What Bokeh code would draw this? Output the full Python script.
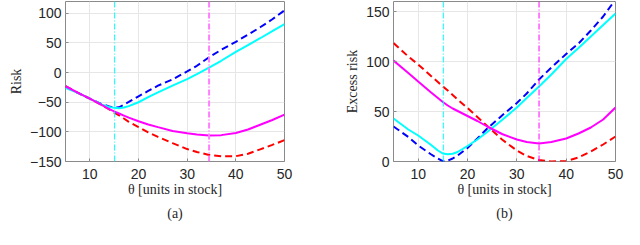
from bokeh.plotting import figure
from bokeh.layouts import row
from bokeh.models import Range1d, FixedTicker, Span, Title, Spacer
from bokeh.embed import file_html
from bokeh.resources import INLINE

# ---- data ----
theta = [5, 8, 10, 12.5, 14, 15, 16, 17, 18, 20, 22, 24, 27, 30, 32, 34.5, 37, 40, 42.5, 45, 47.5, 50]

# (a) Risk
risk_cyan = [-25.5, -36, -44, -54, -58, -59.5, -60, -59, -56.5, -50, -41.5, -33.5, -22, -11, -2.5, 8.5, 20, 35, 46.5, 58, 70, 82]
risk_blue = [-24.5, -36, -44, -53.5, -57, -59, -58.5, -54, -49.5, -40, -31, -22, -11.5, 2, 11.5, 26, 38.5, 52, 64, 76.5, 90, 105]
risk_magenta = [-23, -36, -44, -55, -61.5, -65.5, -69, -72.5, -76, -82, -87.5, -92, -98.5, -102.5, -104.5, -106, -105.5, -102, -96, -88, -80, -71]
risk_red = [-23, -36, -44, -55, -62, -67.5, -72, -77.5, -83, -92, -101, -108.5, -119, -129, -134, -139, -141, -141, -137, -129.5, -122, -114]

# (b) Excess risk
ex_cyan = [43, 32, 26, 17, 11, 8, 7.2, 7.8, 9.5, 15.5, 22, 29.5, 41.5, 54, 63.5, 75, 87, 102.5, 113.5, 125, 136.5, 148]
ex_blue = [35, 24.5, 16, 7.5, 3, 0.3, 0.8, 3, 6, 13.5, 23, 33, 46, 58.5, 68, 82, 94, 107.5, 118, 131, 145, 162]
ex_red = [118.5, 105, 97, 86, 79.5, 75, 71, 66.5, 62, 53.5, 44.5, 35.5, 22, 11, 5.5, 1.5, 0, 0.5, 4, 10, 17, 25]
ex_magenta = [101, 88.5, 80, 69.5, 63.5, 59.5, 56, 53, 50.5, 45.5, 40.5, 35, 27.5, 22, 19.5, 18, 19.5, 23, 28, 34, 42, 54]

theta_opt_1 = 15.1
theta_opt_2 = 34.5

x_ticks = [10, 20, 30, 40, 50]
ya_ticks = [-150, -100, -50, 0, 50, 100]
yb_ticks = [0, 50, 100, 150]

SANS = "Liberation Sans"
SERIF = "Liberation Serif"
TXT = "#262626"


def make_fig(fw, ylim, yticks, ylabel, sub, bl, br):
    p = figure(frame_width=fw, frame_height=160, output_backend="svg", toolbar_location=None,
               x_range=Range1d(5, 50), y_range=Range1d(*ylim),
               min_border_left=bl, min_border_right=br, min_border_top=1, min_border_bottom=0)
    p.outline_line_color = "#8a8a8a"
    p.outline_line_width = 1
    p.background_fill_color = "white"
    p.border_fill_color = "white"
    p.xaxis.ticker = FixedTicker(ticks=x_ticks)
    p.yaxis.ticker = FixedTicker(ticks=yticks)
    for ax in (p.xaxis[0], p.yaxis[0]):
        ax.axis_line_color = None
        ax.major_tick_in = 3
        ax.major_tick_out = 0
        ax.major_tick_line_color = "#8a8a8a"
        ax.minor_tick_line_color = None
        ax.major_label_text_font = SANS
        ax.major_label_text_font_size = "14px"
        ax.major_label_text_color = TXT
        ax.axis_label_text_font = SERIF
        ax.axis_label_text_font_size = "14px"
        ax.axis_label_text_font_style = "normal"
        ax.axis_label_text_color = TXT
    p.xaxis.major_label_standoff = 7
    p.yaxis.major_label_standoff = 4
    p.xaxis.axis_label = "θ [units in stock]"
    p.xaxis.axis_label_standoff = 0
    p.yaxis.axis_label = ylabel
    p.yaxis.axis_label_standoff = 3
    p.grid.grid_line_color = "#e6e6e6"
    p.grid.grid_line_width = 1
    p.add_layout(Title(text=sub, align="center", text_font=SERIF, text_font_size="14px",
                       text_font_style="normal", text_color=TXT, standoff=8), "below")
    return p


pa = make_fig(219, (-150, 120), ya_ticks, "Risk", "(a)", 55, 38)
pa.add_layout(Span(location=theta_opt_1, dimension="height", line_color="#00ffff",
                   line_width=1, line_dash="6 2 1 2"))
pa.add_layout(Span(location=theta_opt_2, dimension="height", line_color="#ff80ff",
                   line_width=2, line_dash="6 2 1 2"))
pa.line(theta, risk_blue, line_color="#0000ff", line_width=2, line_dash="7 4")
pa.line(theta, risk_red, line_color="#ff0000", line_width=2, line_dash="7 4")
pa.line(theta, risk_cyan, line_color="#00ffff", line_width=2)
pa.line(theta, risk_magenta, line_color="#ff00ff", line_width=2)

pb = make_fig(222, (0, 160), yb_ticks, "Excess risk", "(b)", 71, 14)
pb.add_layout(Span(location=theta_opt_1, dimension="height", line_color="#00ffff",
                   line_width=1, line_dash="6 2 1 2"))
pb.add_layout(Span(location=theta_opt_2, dimension="height", line_color="#ff00ff",
                   line_width=1, line_dash="6 2 1 2"))
pb.line(theta, ex_blue, line_color="#0000ff", line_width=2, line_dash="7 4")
pb.line(theta, ex_red, line_color="#ff0000", line_width=2, line_dash="7 4")
pb.line(theta, ex_cyan, line_color="#00ffff", line_width=2)
pb.line(theta, ex_magenta, line_color="#ff00ff", line_width=2)

layout = row(Spacer(width=5, height=10), pa, pb)
open("out.html", "w").write(file_html(layout, INLINE))
